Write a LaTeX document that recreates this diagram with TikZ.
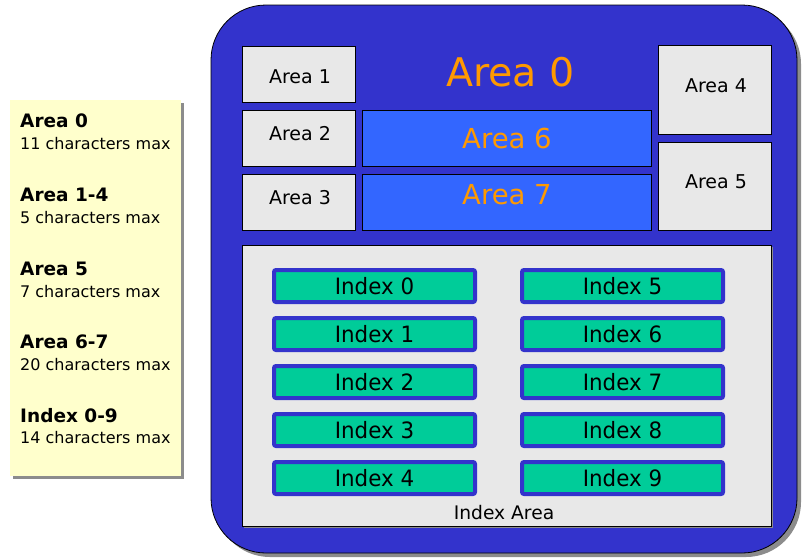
\documentclass[tikz,border=0pt]{standalone}
\usepackage{fontspec}
\setmainfont{DejaVu Sans}
\definecolor{panelblue}{HTML}{3333CC}
\definecolor{boxgray}{HTML}{E8E8E8}
\definecolor{midblue}{HTML}{3366FF}
\definecolor{idxgreen}{HTML}{00CC99}
\definecolor{areaorange}{HTML}{FF9900}
\definecolor{notey}{HTML}{FFFFCC}
\definecolor{shadowgray}{HTML}{8C8C8C}
\tikzset{
  areabox/.style={draw=black, line width=0.8pt, fill=boxgray, inner sep=0pt},
  widebox/.style={draw=black, line width=0.8pt, fill=midblue, inner sep=0pt},
  areatext/.style={inner sep=0pt, font=\fontsize{19}{22}\selectfont, text=black},
  widetext/.style={inner sep=0pt, font=\fontsize{27.5}{32}\selectfont, text=areaorange},
  idxbox/.style={draw=panelblue, line width=4pt, fill=idxgreen, rounded corners=2pt,
    inner sep=0pt, minimum width=201pt, minimum height=32pt,
    font=\fontsize{22.5}{26}\selectfont, text=black},
  legbold/.style={anchor=base west, inner sep=0pt, font=\fontsize{18.5}{20}\selectfont\bfseries},
  legreg/.style={anchor=base west, inner sep=0pt, font=\fontsize{16}{18}\selectfont},
}
\newcommand{\idxtxt}[1]{\raisebox{-1pt}{\scalebox{0.95}[1]{#1}}}
\begin{document}
\begin{tikzpicture}[x=1pt,y=-1pt]
\useasboundingbox (0,0) rectangle (802,558);
% legend note
\fill[shadowgray] (13,103) rectangle (184,479);
\fill[notey] (10,100) rectangle (181,476);
\node[legbold] (l0) at (20,127) {Area 0};
\node[legreg] (l0b) at (20,149) {11 characters max};
\node[legbold] (l1) at (20,201) {Area 1-4};
\node[legreg] (l1b) at (20,223) {5 characters max};
\node[legbold] (l2) at (20,275) {Area 5};
\node[legreg] (l2b) at (20,297) {7 characters max};
\node[legbold] (l3) at (20,348) {Area 6-7};
\node[legreg] (l3b) at (20,370) {20 characters max};
\node[legbold] (l4) at (20,422) {Index 0-9};
\node[legreg] (l4b) at (20,443) {14 characters max};
% panel
\fill[shadowgray, rounded corners=55pt] (215,9) rectangle (801,557);
\draw[black, line width=0.8pt, fill=panelblue, rounded corners=55pt] (211,5) rectangle (797,553);
% areas
\node[areabox, minimum width=113pt, minimum height=56pt] (a1) at (298.5,74) {};
\node[areabox, minimum width=113pt, minimum height=56pt] (a2) at (298.5,138) {};
\node[areabox, minimum width=113pt, minimum height=56pt] (a3) at (298.5,202) {};
\node[areabox, minimum width=113pt, minimum height=89pt] (a4) at (714.5,89.5) {};
\node[areabox, minimum width=113pt, minimum height=88pt] (a5) at (714.5,186) {};
\node[widebox, minimum width=289pt, minimum height=56pt] (a6) at (506.5,138) {};
\node[widebox, minimum width=289pt, minimum height=56pt] (a7) at (506.5,202) {};
\node[areatext] (a1t) at (300,77) {Area 1};
\node[areatext] (a2t) at (300,133.5) {Area 2};
\node[areatext] (a3t) at (300,197.5) {Area 3};
\node[areatext] (a4t) at (716,85.5) {Area 4};
\node[areatext] (a5t) at (716,181.5) {Area 5};
\node[widetext] (a6t) at (507,138.5) {Area 6};
\node[widetext] (a7t) at (507,194.5) {Area 7};
\node[inner sep=0pt, text=areaorange, font=\fontsize{39.5}{44}\selectfont] (a0) at (510.5,72.5) {Area 0};
% index area
\fill[shadowgray] (244,247) rectangle (773,528);
\node[draw=black, line width=0.8pt, fill=boxgray, minimum width=529pt, minimum height=281pt, inner sep=0pt] (ia) at (506.5,385.5) {};
\node[inner sep=0pt, font=\fontsize{18.7}{21}\selectfont] (ial) at (504,513) {Index Area};
\node[idxbox] (i0) at (374.5,286) {\idxtxt{Index 0}};
\node[idxbox] (i1) at (374.5,334) {\idxtxt{Index 1}};
\node[idxbox] (i2) at (374.5,382) {\idxtxt{Index 2}};
\node[idxbox] (i3) at (374.5,430) {\idxtxt{Index 3}};
\node[idxbox] (i4) at (374.5,478) {\idxtxt{Index 4}};
\node[idxbox] (i5) at (622.5,286) {\idxtxt{Index 5}};
\node[idxbox] (i6) at (622.5,334) {\idxtxt{Index 6}};
\node[idxbox] (i7) at (622.5,382) {\idxtxt{Index 7}};
\node[idxbox] (i8) at (622.5,430) {\idxtxt{Index 8}};
\node[idxbox] (i9) at (622.5,478) {\idxtxt{Index 9}};
\end{tikzpicture}
\end{document}
